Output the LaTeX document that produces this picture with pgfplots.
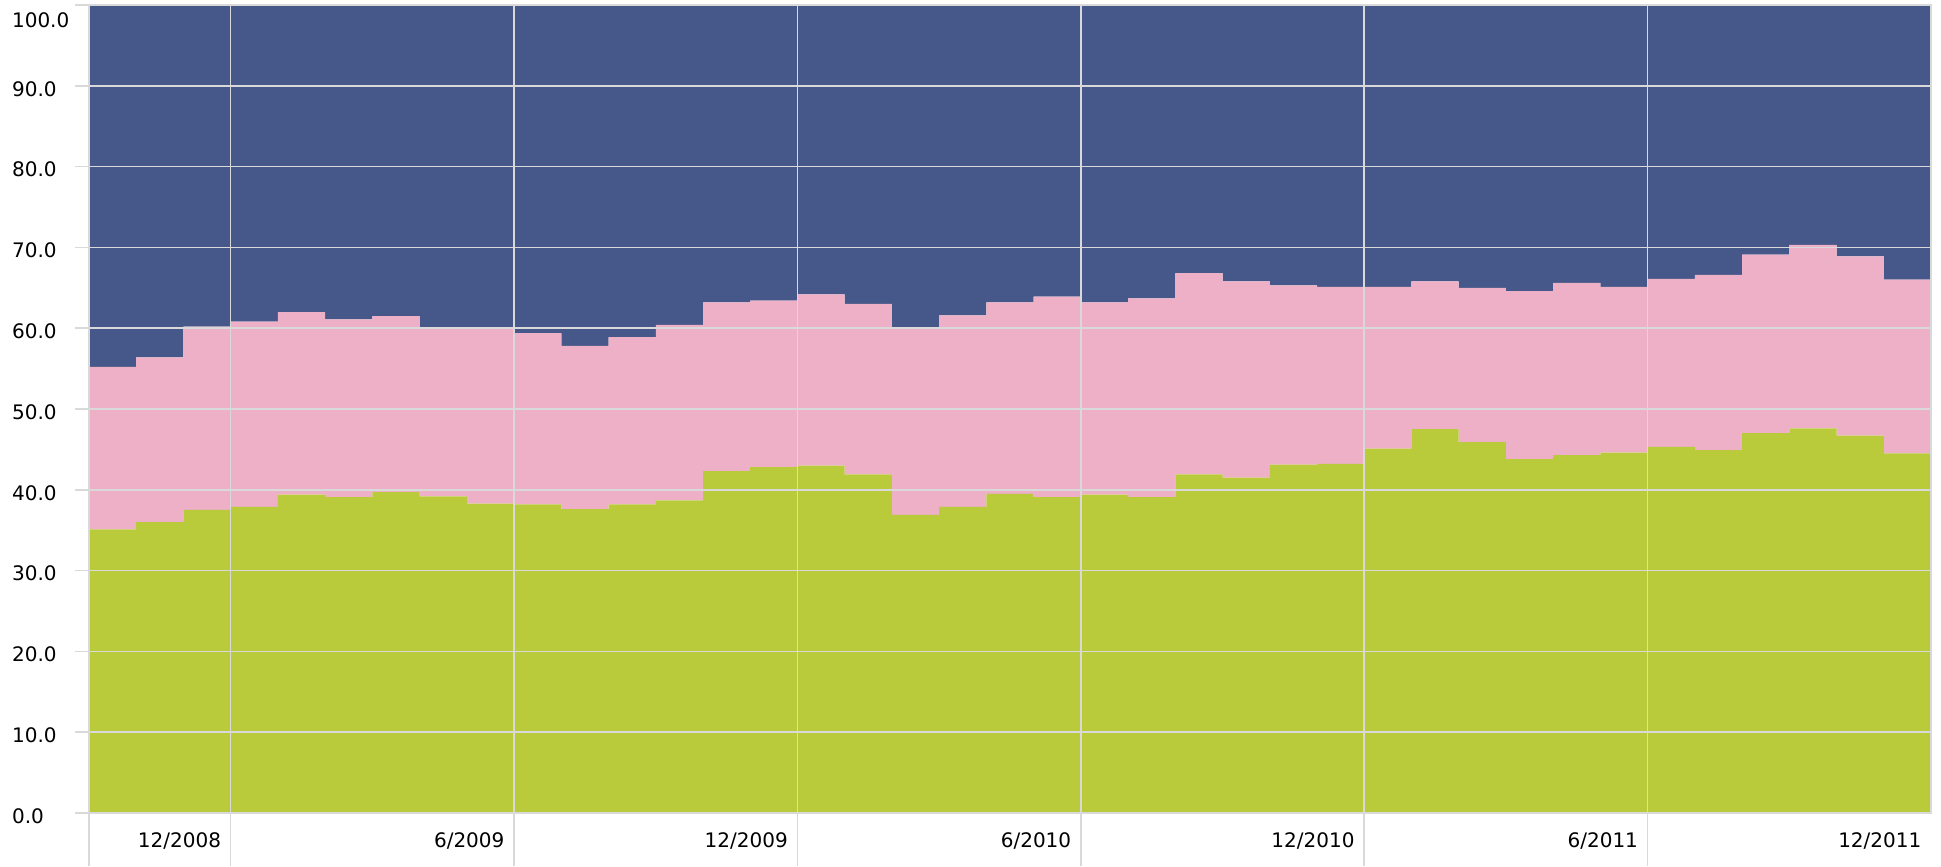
\documentclass[border=0pt]{standalone}
\usepackage{fontspec}
\setmainfont{DejaVu Sans}
\usepackage{pgfplots}
\usepackage{pgfplotstable}
\pgfplotsset{compat=1.18}

\definecolor{sharegreen}{HTML}{B9CA3B}
\definecolor{sharepink}{HTML}{EDB0C6}
\definecolor{shareblue}{HTML}{465889}
\definecolor{gridgray}{HTML}{D9D9D9}

% monthly shares, 10/2008 (m=0) to 12/2011 (m=38); last row repeats for the step
\pgfplotstableread{
m  green pink blue
0  35.1  20.1 44.8
1  36.0  20.4 43.6
2  37.5  22.7 39.8
3  37.9  22.9 39.2
4  39.4  22.6 38.0
5  39.1  22.0 38.9
6  39.7  21.8 38.5
7  39.2  20.8 40.0
8  38.3  21.7 40.0
9  38.2  21.2 40.6
10 37.6  20.2 42.2
11 38.2  20.7 41.1
12 38.7  21.7 39.6
13 42.3  20.9 36.8
14 42.8  20.6 36.6
15 43.0  21.2 35.8
16 41.9  21.1 37.0
17 36.9  23.2 39.9
18 37.9  23.7 38.4
19 39.5  23.7 36.8
20 39.1  24.8 36.1
21 39.4  23.8 36.8
22 39.1  24.6 36.3
23 41.9  24.9 33.2
24 41.5  24.3 34.2
25 43.1  22.2 34.7
26 43.2  21.9 34.9
27 45.1  20.0 34.9
28 47.5  18.3 34.2
29 45.9  19.1 35.0
30 43.8  20.8 35.4
31 44.3  21.3 34.4
32 44.6  20.5 34.9
33 45.3  20.8 33.9
34 44.9  21.7 33.4
35 47.0  22.1 30.9
36 47.6  22.7 29.7
37 46.7  22.2 31.1
38 44.5  21.5 34.0
39 44.5  21.5 34.0
}\shares

\begin{document}
\begin{tikzpicture}[font=\fontsize{10}{12}\selectfont]
\begin{axis}[
  scale only axis,
  width=921pt, height=404pt,
  xmin=0, xmax=39, ymin=0, ymax=100,
  stack plots=y,
  axis on top,
  clip=false,
  axis line style={gridgray, line width=0.8pt},
  grid=major,
  major grid style={gridgray, line width=0.8pt},
  tick align=outside,
  tick pos=left,
  tick style={gridgray, line width=0.8pt},
  xtick style={/pgfplots/major tick length=26.5pt},
  ytick style={/pgfplots/major tick length=7pt},
  ytick={0,10,...,90},
  extra y ticks={100},
  extra y tick labels={\makebox[30pt][l]{100.0}},
  extra y tick style={yticklabel style={yshift=-6pt}},
  /pgf/number format/assume math mode=true,
  /pgf/number format/fixed,
  /pgf/number format/fixed zerofill,
  /pgf/number format/precision=1,
  yticklabel={\makebox[30pt][l]{\pgfmathprintnumber{\tick}}},
  yticklabel style={anchor=east, inner sep=0pt, text=black, xshift=-4pt, yshift=-1.5pt},
  xtick={0,3,9,15,21,27,33},
  xticklabels={,12/2008,6/2009,12/2009,6/2010,12/2010,6/2011},
  extra x ticks={39},
  extra x tick labels={12/2011},
  extra x tick style={xtick style={draw=none}, grid=none},
  xticklabel style={anchor=north east, xshift=-1.3pt, yshift=-2pt, text=black},
]
\addplot[const plot, fill=sharegreen, draw=none] table[x=m, y=green] {\shares} \closedcycle;
\addplot[const plot, fill=sharepink, draw=none] table[x=m, y=pink] {\shares} \closedcycle;
\addplot[const plot, fill=shareblue, draw=none] table[x=m, y=blue] {\shares} \closedcycle;
\coordinate (bl) at (rel axis cs:0,0);
\coordinate (tr) at (rel axis cs:1,1);
\end{axis}
\path ([xshift=-44.5pt,yshift=-26.5pt]bl) rectangle ([xshift=5pt,yshift=2.5pt]tr);
\end{tikzpicture}
\end{document}
